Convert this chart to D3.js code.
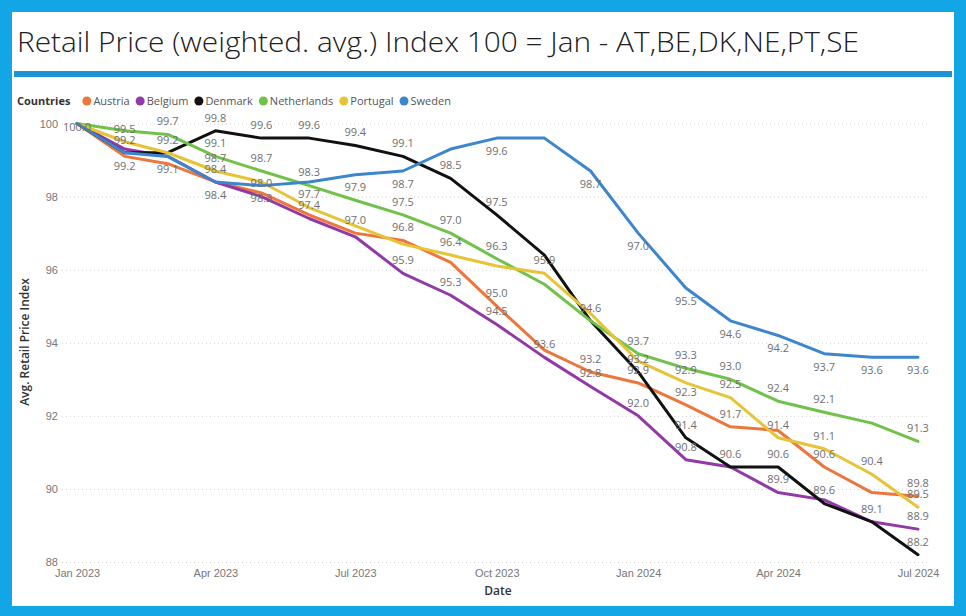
<!DOCTYPE html>
<html lang="en">
<head>
  <meta charset="UTF-8" />
  <title>Retail Price Index</title>
  <script src="https://d3js.org/d3.v7.min.js"></script>
  <style>
    body {
      margin: 0;
      background-color: #12a6e6;
    }

    svg {
      display: block;
      font-family: "Open Sans", "Noto Sans", sans-serif;
    }

    .grid line {
      stroke: #cfcfcf;
      stroke-dasharray: 1, 3;
    }

    .tick text {
      fill: #777;
      font-size: 11px;
    }

    .series {
      fill: none;
      stroke-width: 3px;
      stroke-linejoin: round;
      stroke-linecap: round;
    }

    .lbl {
      fill: #6f6f6f;
      font-size: 11px;
      text-anchor: middle;
    }
  </style>
</head>

<body>
  <svg id="chart" width="966" height="616"></svg>

  <script>
    // months Jan 2023 .. Jul 2024
    const months = ["2023-01", "2023-02", "2023-03", "2023-04", "2023-05", "2023-06", "2023-07",
      "2023-08", "2023-09", "2023-10", "2023-11", "2023-12", "2024-01", "2024-02", "2024-03",
      "2024-04", "2024-05", "2024-06", "2024-07"];

    const countries = ["Austria", "Belgium", "Denmark", "Netherlands", "Portugal", "Sweden"];
    const colors = ["#ec763b", "#9239a6", "#111111", "#70c24b", "#e7c336", "#3b86cc"];

    const austria = [100.0, 99.1, 98.9, 98.4, 98.1, 97.5, 97.0, 96.8, 96.2, 95.0, 93.8, 93.2, 92.9, 92.3, 91.7, 91.6, 90.6, 89.9, 89.8];
    const belgium = [100.0, 99.3, 99.1, 98.4, 98.0, 97.4, 96.9, 95.9, 95.3, 94.5, 93.6, 92.8, 92.0, 90.8, 90.6, 89.9, 89.7, 89.1, 88.9];
    const denmark = [100.0, 99.2, 99.2, 99.8, 99.6, 99.6, 99.4, 99.1, 98.5, 97.5, 96.4, 94.6, 93.2, 91.4, 90.6, 90.6, 89.6, 89.1, 88.2];
    const netherlands = [100.0, 99.8, 99.7, 99.1, 98.7, 98.3, 97.9, 97.5, 97.0, 96.3, 95.6, 94.6, 93.7, 93.3, 93.0, 92.4, 92.1, 91.8, 91.3];
    const portugal = [100.0, 99.5, 99.2, 98.7, 98.4, 97.7, 97.2, 96.7, 96.4, 96.1, 95.9, 94.8, 93.5, 92.9, 92.5, 91.4, 91.1, 90.4, 89.5];
    const sweden = [100.0, 99.2, 99.1, 98.4, 98.3, 98.4, 98.6, 98.7, 99.3, 99.6, 99.6, 98.7, 97.0, 95.5, 94.6, 94.2, 93.7, 93.6, 93.6];

    const seriesValues = [austria, belgium, denmark, netherlands, portugal, sweden];

    const yTicks = [88, 90, 92, 94, 96, 98, 100];

    // which points carry a data label: [country, month index]
    const labelsAbove = [
      ["Portugal", 1], ["Denmark", 1],
      ["Netherlands", 2], ["Portugal", 2],
      ["Denmark", 3], ["Netherlands", 3], ["Portugal", 3], ["Austria", 3],
      ["Denmark", 4], ["Netherlands", 4], ["Belgium", 4],
      ["Denmark", 5], ["Netherlands", 5], ["Portugal", 5], ["Belgium", 5],
      ["Denmark", 6], ["Netherlands", 6], ["Austria", 6],
      ["Denmark", 7], ["Netherlands", 7], ["Austria", 7], ["Belgium", 7],
      ["Denmark", 8], ["Netherlands", 8], ["Portugal", 8], ["Belgium", 8],
      ["Denmark", 9], ["Netherlands", 9], ["Austria", 9], ["Belgium", 9],
      ["Portugal", 10], ["Belgium", 10],
      ["Netherlands", 11], ["Austria", 11], ["Belgium", 11],
      ["Netherlands", 12], ["Denmark", 12], ["Austria", 12], ["Belgium", 12],
      ["Netherlands", 13], ["Portugal", 13], ["Austria", 13], ["Denmark", 13], ["Belgium", 13],
      ["Netherlands", 14], ["Portugal", 14], ["Austria", 14], ["Denmark", 14],
      ["Netherlands", 15], ["Portugal", 15], ["Denmark", 15], ["Belgium", 15],
      ["Netherlands", 16], ["Portugal", 16], ["Austria", 16], ["Denmark", 16],
      ["Portugal", 17], ["Denmark", 17],
      ["Netherlands", 18], ["Austria", 18], ["Portugal", 18], ["Belgium", 18], ["Denmark", 18]
    ];
    const labelsBelow = [
      ["Sweden", 1], ["Sweden", 2], ["Sweden", 3], ["Sweden", 4], ["Sweden", 7], ["Sweden", 9],
      ["Sweden", 11], ["Sweden", 12], ["Sweden", 13], ["Sweden", 14], ["Sweden", 15],
      ["Sweden", 16], ["Sweden", 17], ["Sweden", 18]
    ];
    const labelsOn = [["Austria", 0]];

    const svg = d3.select("#chart");
    const W = +svg.attr("width");
    const H = +svg.attr("height");

    // white panel inside the blue frame
    svg.append("rect")
      .attr("x", 12).attr("y", 12)
      .attr("width", W - 24).attr("height", H - 22)
      .attr("fill", "#fff");

    svg.append("text")
      .attr("x", 17).attr("y", 52)
      .attr("textLength", 842)
      .attr("lengthAdjust", "spacingAndGlyphs")
      .style("font-size", "28px")
      .style("font-weight", "300")
      .style("fill", "#202020")
      .text("Retail Price (weighted. avg.) Index 100 = Jan - AT,BE,DK,NE,PT,SE");

    svg.append("rect")
      .attr("x", 14).attr("y", 71)
      .attr("width", 938).attr("height", 6)
      .attr("fill", "#1b93d5");

    // legend
    const legend = svg.append("g").attr("transform", "translate(17,101)");
    const legTitle = legend.append("text")
      .attr("dy", "0.35em")
      .style("font-size", "11px")
      .style("font-weight", "bold")
      .style("fill", "#333")
      .text("Countries");
    let cx = legTitle.node().getComputedTextLength() + 12;
    countries.forEach((c, i) => {
      legend.append("circle").attr("cx", cx + 4.5).attr("cy", 0).attr("r", 4.5).attr("fill", colors[i]);
      const t = legend.append("text")
        .attr("x", cx + 11).attr("dy", "0.35em")
        .style("font-size", "11px")
        .style("fill", "#555")
        .text(c);
      cx += 11 + t.node().getComputedTextLength() + 6;
    });

    const parseMonth = d3.timeParse("%Y-%m");
    const dates = months.map(parseMonth);

    const x = d3.scaleTime().domain(d3.extent(dates)).range([77, 918]);
    const y = d3.scaleLinear().domain([88, 100]).range([562, 123.5]);

    // y axis + dotted grid
    const yAxis = svg.append("g")
      .attr("class", "grid")
      .attr("transform", "translate(62,0)")
      .call(d3.axisLeft(y).tickValues(yTicks).tickSize(-868).tickPadding(4));
    yAxis.select(".domain").remove();

    // x axis
    const xAxis = svg.append("g")
      .attr("transform", "translate(0,562)")
      .call(d3.axisBottom(x)
        .ticks(d3.timeMonth.every(3))
        .tickFormat(d3.timeFormat("%b %Y"))
        .tickSize(0)
        .tickPadding(7));
    xAxis.select(".domain").remove();

    // axis titles
    svg.append("text")
      .attr("transform", "translate(29,342) rotate(-90)")
      .attr("text-anchor", "middle")
      .style("font-size", "12px")
      .style("font-weight", "600")
      .style("fill", "#333")
      .text("Avg. Retail Price Index");

    svg.append("text")
      .attr("x", 498).attr("y", 595)
      .attr("text-anchor", "middle")
      .style("font-size", "12px")
      .style("font-weight", "600")
      .style("fill", "#333")
      .text("Date");

    const data = countries.map((c, i) => ({
      name: c,
      color: colors[i],
      values: seriesValues[i].map((v, j) => ({ date: dates[j], value: v }))
    }));

    const line = d3.line()
      .x(d => x(d.date))
      .y(d => y(d.value));

    svg.append("g")
      .selectAll("path")
      .data(data)
      .join("path")
      .attr("class", "series")
      .attr("stroke", d => d.color)
      .attr("d", d => line(d.values));

    // data labels
    const labelGroup = svg.append("g");
    function addLabels(list, dy) {
      list.forEach(([c, m]) => {
        const v = seriesValues[countries.indexOf(c)][m];
        labelGroup.append("text")
          .attr("class", "lbl")
          .attr("x", x(dates[m]))
          .attr("y", y(v) + dy)
          .attr("dy", "0.35em")
          .text(d3.format(".1f")(v));
      });
    }
    addLabels(labelsAbove, -13);
    addLabels(labelsBelow, 13);
    addLabels(labelsOn, 4);
  </script>
</body>

</html>
